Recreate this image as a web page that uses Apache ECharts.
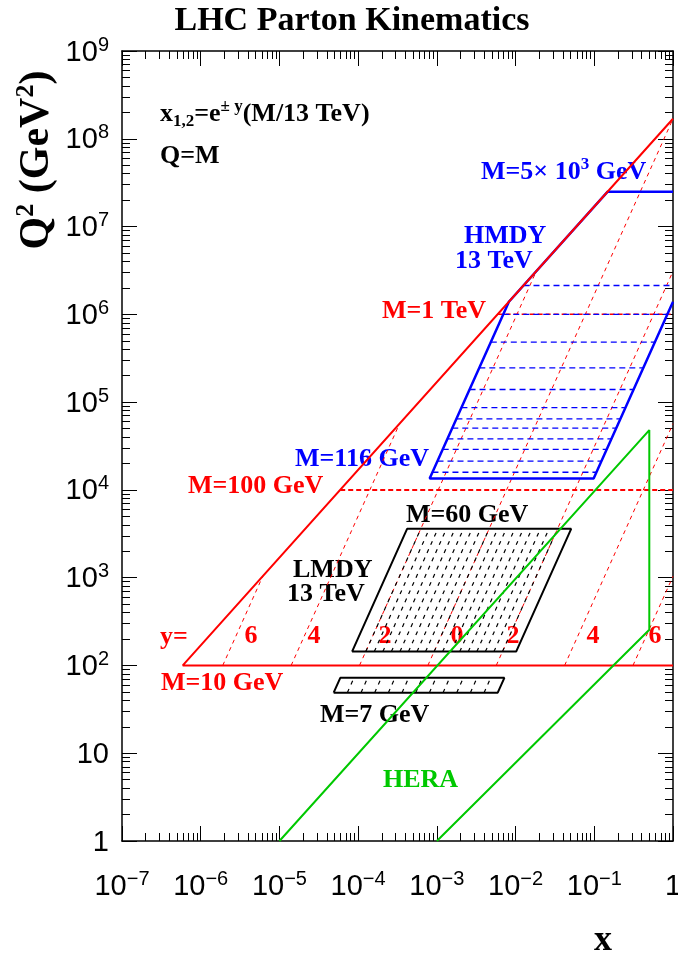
<!DOCTYPE html>
<html>
<head>
<meta charset="utf-8">
<script src="https://cdn.jsdelivr.net/npm/echarts@6/dist/echarts.min.js"></script>
<style>
  html, body { margin: 0; padding: 0; background: #fff; }
  #chart { width: 678px; height: 961px; }
</style>
</head>
<body>
<div id="chart"></div>
<script>
// ---------- data (x, Q^2 in GeV^2) ----------

// kinematic limit x = Q^2/s at 13 TeV, then the M = 10 GeV floor
const limitX  = [1, 5.917e-7, 1];
const limitQ2 = [1.69e8, 100, 100];

// constant-rapidity guides: start on the M = 10 GeV floor, end on the limit or at x = 1
const rapLabels = ['6', '4', '2', '0', '2', '4', '6'];
const rapX0     = [1.906e-6, 1.409e-5, 1.041e-4, 7.692e-4, 5.684e-3, 4.200e-2, 0.3103];
const rapX1     = [6.144e-6, 3.355e-4, 1.832e-2, 1, 1, 1, 1];
const rapQ2End  = [1.038e3, 5.67e4, 3.095e6, 1.69e8, 3.095e6, 5.67e4, 1.038e3];

// dashed mass markers: M = 100 GeV and M = 1 TeV
const markQ2 = [1e4, 1e6];
const markX0 = [5.917e-5, 5.917e-3];
const markX1 = [1, 1];

// HMDY 13 TeV outline
const hmdyX  = [1, 0.0981, 8.1e-4, 8.23e-3, 0.148, 1];
const hmdyQ2 = [1.39e6, 13456, 13456, 1.39e6, 2.5e7, 2.5e7];
// HMDY mass bins (GeV) and their x extent
const hmdyBinM  = [126, 146, 170, 195, 225, 254, 294, 373, 496, 694, 1000, 1460];
const hmdyBinX0 = [8.79e-4, 1.019e-3, 1.186e-3, 1.361e-3, 1.570e-3, 1.772e-3, 2.051e-3, 2.602e-3, 3.461e-3, 4.842e-3, 6.977e-3, 1.261e-2];
const hmdyBinX1 = [0.1068, 0.1238, 0.1441, 0.1653, 0.1908, 0.2153, 0.2493, 0.3162, 0.4205, 0.5884, 0.8478, 1];

// LMDY 13 TeV outline (12 < M < 60 GeV)
const lmdyX  = [8.372e-5, 1.0174e-2, 5.087e-2, 4.187e-4, 8.372e-5];
const lmdyQ2 = [144, 144, 3600, 3600, 144];
// LMDY rapidity bins: x at M = 12 GeV and at M = 60 GeV
const lmdyBinXLow  = [1.2493e-4, 1.6041e-4, 2.0597e-4, 2.6447e-4, 3.3958e-4, 4.3603e-4, 5.5988e-4, 7.1889e-4, 9.2308e-4, 1.1853e-3, 1.5219e-3, 1.9542e-3, 2.5092e-3, 3.2219e-3, 4.1370e-3, 5.3119e-3, 6.8207e-3];
const lmdyBinXHigh = [6.246e-4, 8.020e-4, 1.0298e-3, 1.3223e-3, 1.6979e-3, 2.1801e-3, 2.7994e-3, 3.5944e-3, 4.6154e-3, 5.9263e-3, 7.6095e-3, 9.771e-3, 1.2546e-2, 1.6109e-2, 2.0685e-2, 2.6560e-2, 3.4103e-2];

// M = 7 GeV strip
const lowX  = [4.885e-5, 5.935e-3, 7.207e-3, 5.931e-5, 4.885e-5];
const lowQ2 = [49, 49, 72.25, 72.25, 49];
const lowBinXLow  = [7.2875e-5, 1.0871e-4, 1.6218e-4, 2.4195e-4, 3.6094e-4, 5.3846e-4, 8.0329e-4, 1.1984e-3, 1.7877e-3, 2.6670e-3, 3.9788e-3];
const lowBinXHigh = [8.849e-5, 1.3201e-4, 1.9693e-4, 2.9380e-4, 4.3829e-4, 6.5385e-4, 9.754e-4, 1.4552e-3, 2.1709e-3, 3.2385e-3, 4.8314e-3];

// HERA coverage
const heraX  = [1e-5, 0.5, 0.5, 1e-3];
const heraQ2 = [1, 4.8e4, 255, 1];

// axis decades
const xDecades = [1e-7, 1];
const yDecades = [1, 1e9];

// ---------- styling ----------
const RED = '#ff0000', BLUE = '#0000ff', GREEN = '#00c800', BLACK = '#000000';
const SERIF = 'Liberation Serif', SANS = 'Liberation Sans';

const series = [];
function addLine(xs, ys, color, width, type, z) {
  series.push({
    type: 'line',
    data: xs.map((x, i) => [x, ys[i]]),
    symbol: 'none',
    showSymbol: false,
    silent: true,
    animation: false,
    clip: true,
    z: z,
    lineStyle: { color: color, width: width, type: type, cap: 'butt' }
  });
}

// rapidity guides
rapX0.forEach((x0, i) => addLine([x0, rapX1[i]], [100, rapQ2End[i]], RED, 1, [4, 4], 2));
// mass markers
markQ2.forEach((q, i) => addLine([markX0[i], markX1[i]], [q, q], RED, i === 0 ? 2 : 1.5, [5, 3], 2));
// HMDY bins and outline
hmdyBinM.forEach((m, i) => addLine([hmdyBinX0[i], hmdyBinX1[i]], [m * m, m * m], BLUE, 1.3, [6, 4], 3));
addLine(hmdyX, hmdyQ2, BLUE, 2.5, 'solid', 4);
// LMDY bins and outline
lmdyBinXLow.forEach((x, i) => addLine([x, lmdyBinXHigh[i]], [144, 3600], BLACK, 1.2, [4, 5], 3));
addLine(lmdyX, lmdyQ2, BLACK, 2, 'solid', 4);
// M = 7 GeV strip
lowBinXLow.forEach((x, i) => addLine([x, lowBinXHigh[i]], [49, 72.25], BLACK, 1.2, [4, 5], 3));
addLine(lowX, lowQ2, BLACK, 2, 'solid', 4);
// kinematic limit
addLine(limitX, limitQ2, RED, 2, 'solid', 5);
// HERA
addLine(heraX, heraQ2, GREEN, 2, 'solid', 6);

// ---------- axes ----------
function powLabel(v) {
  const e = Math.round(Math.log10(v));
  if (e === 0) return '{b|1}';
  if (e === 1) return '{b|10}';
  return '{b|10}{s|' + (e < 0 ? '\u2212' + (-e) : String(e)) + '}';
}
const tickRich = {
  b: { fontFamily: SANS, fontSize: 29, lineHeight: 32, verticalAlign: 'bottom', color: BLACK },
  s: { fontFamily: SANS, fontSize: 20, lineHeight: 20, verticalAlign: 'top', color: BLACK }
};
function logAxis(range, split, position, labels, margin) {
  return {
    type: 'log', logBase: 10, min: range[0], max: range[1], splitNumber: split,
    position: position,
    axisLine: { show: true, onZero: false, lineStyle: { color: BLACK, width: 1.5 } },
    axisTick: { show: true, inside: true, length: 15, lineStyle: { color: BLACK, width: 1 } },
    minorTick: { show: true, splitNumber: 9, length: 8, lineStyle: { color: BLACK, width: 1 } },
    splitLine: { show: false },
    minorSplitLine: { show: false },
    axisLabel: { show: labels, margin: margin, formatter: powLabel, rich: tickRich }
  };
}

// ---------- text ----------
function tok(size, extra) {
  return Object.assign({ fontFamily: SERIF, fontWeight: 'bold', fontSize: size, lineHeight: size }, extra || {});
}
const noteRich = {
  m: tok(26, { verticalAlign: 'middle', lineHeight: 32 }),
  sup: tok(17, { verticalAlign: 'top' }),
  sub: tok(17, { verticalAlign: 'bottom' })
};
const notes = [
  { t: '{m|x}{sub|1,2}{m|=e}{sup|\u00b1 y}{m|(M/13 TeV)}', x: 160, y: 114, c: BLACK },
  { t: '{m|Q=M}', x: 160, y: 156, c: BLACK },
  { t: '{m|M=5\u00d7 10}{sup|3}{m| GeV}', x: 481, y: 172, c: BLUE },
  { t: '{m|HMDY}', x: 464, y: 236, c: BLUE },
  { t: '{m|13 TeV}', x: 455, y: 261, c: BLUE },
  { t: '{m|M=1 TeV}', x: 382, y: 311, c: RED },
  { t: '{m|M=116 GeV}', x: 295, y: 459, c: BLUE },
  { t: '{m|M=100 GeV}', x: 188, y: 486, c: RED },
  { t: '{m|M=60 GeV}', x: 406, y: 515, c: BLACK },
  { t: '{m|LMDY}', x: 293, y: 570, c: BLACK },
  { t: '{m|13 TeV}', x: 287, y: 594, c: BLACK },
  { t: '{m|y=}', x: 160, y: 637, c: RED },
  { t: '{m|M=10 GeV}', x: 161, y: 683, c: RED },
  { t: '{m|M=7 GeV}', x: 320, y: 715, c: BLACK },
  { t: '{m|HERA}', x: 383, y: 780, c: GREEN }
];
const rapLabelX = [251, 314, 385, 457, 513, 593, 655];

const graphics = notes.map(n => ({
  type: 'text', x: n.x, y: n.y, silent: true,
  style: { text: n.t, rich: noteRich, fill: n.c, align: 'left', verticalAlign: 'middle',
           fontFamily: SERIF, fontWeight: 'bold', fontSize: 26 }
}));
rapLabels.forEach((t, i) => graphics.push({
  type: 'text', x: rapLabelX[i], y: 636, silent: true,
  style: { text: t, fill: RED, align: 'center', verticalAlign: 'middle',
           fontFamily: SERIF, fontWeight: 'bold', fontSize: 26 }
}));
graphics.push({
  type: 'text', x: 352, y: 21, silent: true,
  style: { text: 'LHC Parton Kinematics', fill: BLACK, align: 'center', verticalAlign: 'middle',
           fontFamily: SERIF, fontWeight: 'bold', fontSize: 34 }
});
graphics.push({
  type: 'text', x: 603, y: 941, silent: true,
  style: { text: 'x', fill: BLACK, align: 'center', verticalAlign: 'middle',
           fontFamily: SERIF, fontWeight: 'bold', fontSize: 36 }
});
graphics.push({
  type: 'text', x: 37, y: 160, rotation: Math.PI / 2, silent: true,
  style: {
    text: '{m|Q}{sup|2}{m| (GeV}{sup|2}{m|)}', fill: BLACK, align: 'center', verticalAlign: 'middle',
    rich: {
      m: tok(42, { verticalAlign: 'middle', lineHeight: 48 }),
      sup: tok(26, { verticalAlign: 'top' })
    }
  }
});

const chart = echarts.init(document.getElementById('chart'), null, { renderer: 'canvas' });
chart.setOption({
  animation: false,
  backgroundColor: '#ffffff',
  grid: { left: 122, right: 5, top: 51, bottom: 120, containLabel: false, outerBoundsMode: 'none' },
  xAxis: [
    logAxis(xDecades, 7, 'bottom', true, 28),
    logAxis(xDecades, 7, 'top', false, 8)
  ],
  yAxis: [
    logAxis(yDecades, 9, 'left', true, 13),
    logAxis(yDecades, 9, 'right', false, 8)
  ],
  series: series,
  graphic: graphics
});
</script>
</body>
</html>
